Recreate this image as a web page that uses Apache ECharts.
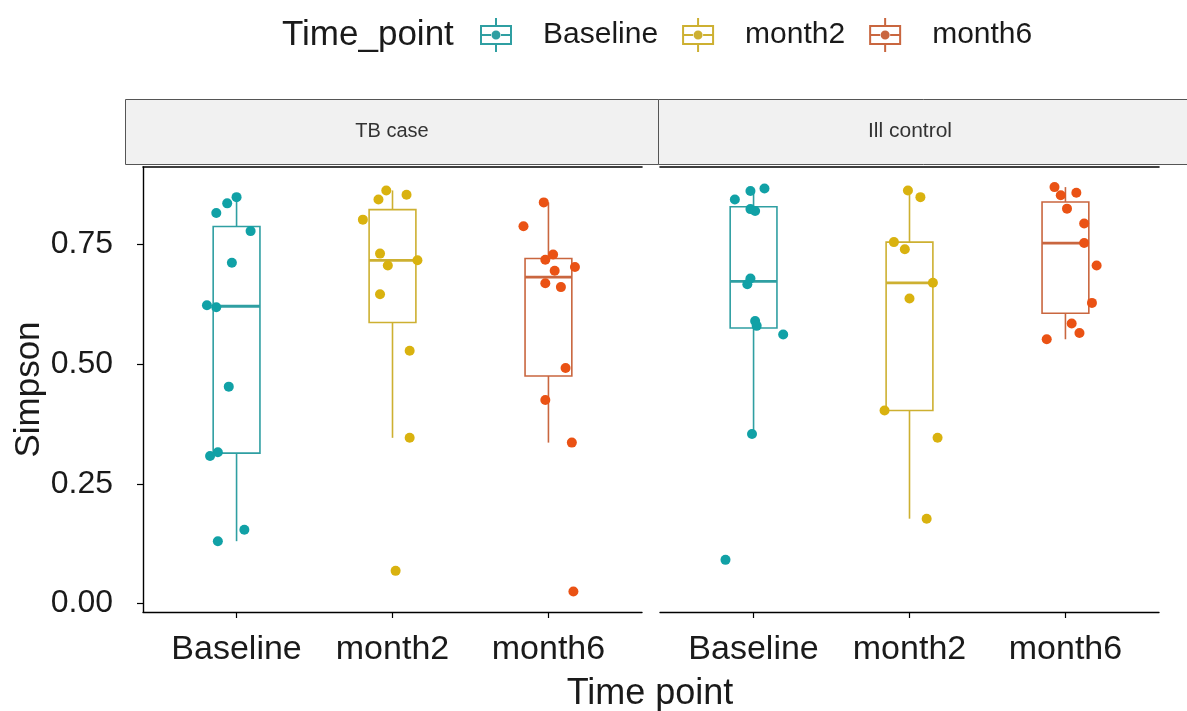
<!DOCTYPE html>
<html>
<head>
<meta charset="utf-8">
<script src="https://cdn.jsdelivr.net/npm/echarts@6/dist/echarts.min.js"></script>
<style>
  html, body { margin: 0; padding: 0; background: #ffffff; }
  #chart { width: 1187px; height: 711px; }
</style>
</head>
<body>
<div id="chart"></div>
<script>
// ---- data -------------------------------------------------------------
const timePoints = ['Baseline', 'month2', 'month6'];
const facets = ['TB case', 'Ill control'];
const yTickValues = [0, 0.25, 0.5, 0.75];

// Simpson diversity per sample, TB case
const tbBaseline = [0.849, 0.836, 0.816, 0.778, 0.712, 0.623, 0.619, 0.453, 0.316, 0.308, 0.154, 0.130];
const tbMonth2   = [0.863, 0.854, 0.844, 0.802, 0.731, 0.717, 0.706, 0.646, 0.528, 0.346, 0.068];
const tbMonth6   = [0.838, 0.788, 0.729, 0.718, 0.703, 0.695, 0.669, 0.661, 0.492, 0.425, 0.336, 0.025];

// Simpson diversity per sample, Ill control
const icBaseline = [0.867, 0.862, 0.844, 0.824, 0.820, 0.679, 0.667, 0.590, 0.580, 0.562, 0.354, 0.091];
const icMonth2   = [0.863, 0.849, 0.755, 0.740, 0.670, 0.637, 0.403, 0.346, 0.177];
const icMonth6   = [0.870, 0.858, 0.853, 0.825, 0.794, 0.753, 0.706, 0.628, 0.585, 0.565, 0.552];

// horizontal jitter of each point, in category units
const tbBaselineJitter = [0.00, -0.06, -0.13, 0.09, -0.03, -0.19, -0.13, -0.05, -0.12, -0.17, 0.05, -0.12];
const tbMonth2Jitter   = [-0.04, 0.09, -0.09, -0.19, -0.08, 0.16, -0.03, -0.08, 0.11, 0.11, 0.02];
const tbMonth6Jitter   = [-0.03, -0.16, 0.03, -0.02, 0.17, 0.04, -0.02, 0.08, 0.11, -0.02, 0.15, 0.16];
const icBaselineJitter = [0.07, -0.02, -0.12, -0.02, 0.01, -0.02, -0.04, 0.01, 0.02, 0.19, -0.01, -0.18];
const icMonth2Jitter   = [-0.01, 0.07, -0.10, -0.03, 0.15, 0.00, -0.16, 0.18, 0.11];
const icMonth6Jitter   = [-0.07, 0.07, -0.03, 0.01, 0.12, 0.12, 0.20, 0.17, 0.04, 0.09, -0.12];

// ---- styling ------------------------------------------------------------
const pointColors = ['#11a1a6', '#d9b20f', '#ea5214'];
const lineColors  = ['#2f9fa2', '#cdb031', '#c9663f'];
const FONT = 'Liberation Sans, Arial, sans-serif';
const BOX_WIDTH = 0.3;
const Y_MIN = -0.018, Y_MAX = 0.912;

const groupedValues = [[tbBaseline, tbMonth2, tbMonth6], [icBaseline, icMonth2, icMonth6]];
const groupedJitter = [[tbBaselineJitter, tbMonth2Jitter, tbMonth6Jitter],
                       [icBaselineJitter, icMonth2Jitter, icMonth6Jitter]];

// quantile as in R's default (type 7)
function quantile(sorted, p) {
  const h = (sorted.length - 1) * p;
  const lo = Math.floor(h), hi = Math.ceil(h);
  return sorted[lo] + (h - lo) * (sorted[hi] - sorted[lo]);
}
// [low whisker, Q1, median, Q3, high whisker] with 1.5 IQR whiskers
function boxStats(values) {
  const s = values.slice().sort((a, b) => a - b);
  const q1 = quantile(s, 0.25), med = quantile(s, 0.5), q3 = quantile(s, 0.75);
  const iqr = q3 - q1;
  const lo = Math.min(...s.filter(v => v >= q1 - 1.5 * iqr));
  const hi = Math.max(...s.filter(v => v <= q3 + 1.5 * iqr));
  return [lo, q1, med, q3, hi];
}

function renderBox(params, api) {
  const x = api.value(0);
  const lo = api.coord([x, api.value(1)]);
  const q1 = api.coord([x, api.value(2)]);
  const md = api.coord([x, api.value(3)]);
  const q3 = api.coord([x, api.value(4)]);
  const hi = api.coord([x, api.value(5)]);
  const half = api.size([BOX_WIDTH, 0])[0] / 2;
  const color = api.visual('color');
  const cx = q1[0];
  return {
    type: 'group',
    children: [
      { type: 'line', shape: { x1: cx, y1: lo[1], x2: cx, y2: q1[1] }, style: { stroke: color, lineWidth: 1.6 } },
      { type: 'line', shape: { x1: cx, y1: q3[1], x2: cx, y2: hi[1] }, style: { stroke: color, lineWidth: 1.6 } },
      { type: 'rect', shape: { x: cx - half, y: q3[1], width: 2 * half, height: q1[1] - q3[1] },
        style: { fill: '#ffffff', stroke: color, lineWidth: 1.6 } },
      { type: 'line', shape: { x1: cx - half, y1: md[1], x2: cx + half, y2: md[1] }, style: { stroke: color, lineWidth: 2.8 } }
    ]
  };
}

// legend key: box with whiskers, median and a point
const keyIcon = 'path://M15,0h2v7h-2zM15,27h2v7h-2zM0,7h32v20h-32zM2,9v16h28v-16zM2,16h9v2h-9zM21,16h9v2h-9zM11.5,17a4.5,4.5 0 1,0 9,0a4.5,4.5 0 1,0 -9,0z';

// ---- layout ---------------------------------------------------------------
const grids = [
  { left: 143, top: 167, width: 499, height: 445 },
  { left: 660, top: 167, width: 499, height: 445 }
];

const xAxes = [], yAxes = [], series = [];
facets.forEach((facet, g) => {
  xAxes.push({
    type: 'value', gridIndex: g, min: 0.4, max: 3.6, position: 'bottom',
    splitLine: { show: false },
    axisLine: { show: true, onZero: false, lineStyle: { color: '#000', width: 1.4 } },
    axisTick: { show: true, customValues: [1, 2, 3], length: 6, lineStyle: { color: '#000', width: 1.2 } },
    axisLabel: {
      customValues: [1, 2, 3], formatter: v => timePoints[Math.round(v) - 1],
      fontFamily: FONT, fontSize: 34, color: '#1a1a1a', margin: 21
    }
  });
  xAxes.push({
    type: 'value', gridIndex: g, min: 0.4, max: 3.6, position: 'top',
    splitLine: { show: false }, axisTick: { show: false }, axisLabel: { show: false },
    axisLine: { show: true, onZero: false, lineStyle: { color: '#000', width: 1.6 } }
  });
  yAxes.push({
    type: 'value', gridIndex: g, min: Y_MIN, max: Y_MAX,
    splitLine: { show: false },
    axisLine: { show: g === 0, onZero: false, lineStyle: { color: '#000', width: 1.4 } },
    axisTick: { show: g === 0, customValues: yTickValues, length: 6, lineStyle: { color: '#000', width: 1.2 } },
    axisLabel: {
      show: g === 0, customValues: yTickValues, formatter: v => v.toFixed(2),
      fontFamily: FONT, fontSize: 32, color: '#1a1a1a', margin: 30
    },
    name: g === 0 ? 'Simpson' : '', nameLocation: 'middle', nameRotate: 90, nameGap: 93,
    nameTextStyle: { fontFamily: FONT, fontSize: 35, color: '#1a1a1a' }
  });

  timePoints.forEach((tp, t) => {
    const values = groupedValues[g][t];
    const jitter = groupedJitter[g][t];
    series.push({
      name: tp, type: 'custom', xAxisIndex: 2 * g, yAxisIndex: g,
      renderItem: renderBox, itemStyle: { color: lineColors[t] }, z: 2,
      encode: { x: 0, y: [1, 2, 3, 4, 5] },
      data: [[t + 1].concat(boxStats(values))],
      silent: true
    });
    series.push({
      name: tp, type: 'scatter', xAxisIndex: 2 * g, yAxisIndex: g,
      symbolSize: 10, z: 3,
      itemStyle: { color: pointColors[t], opacity: 1 },
      data: values.map((v, i) => [t + 1 + jitter[i], v])
    });
  });
});

const chart = echarts.init(document.getElementById('chart'), null, { renderer: 'canvas' });
chart.setOption({
  animation: false,
  backgroundColor: '#ffffff',
  color: pointColors,
  title: [
    { text: 'Time_point', left: 277, top: 13, textStyle: { fontFamily: FONT, fontSize: 35, fontWeight: 'normal', color: '#1a1a1a' } },
    { text: 'Time point', left: 645, top: 671, textAlign: 'center', textStyle: { fontFamily: FONT, fontSize: 36, fontWeight: 'normal', color: '#1a1a1a' } }
  ],
  legend: {
    left: 480, top: 18, padding: 0, itemWidth: 32, itemHeight: 34, itemGap: 24,
    data: timePoints.map((tp, t) => ({ name: tp, icon: keyIcon, itemStyle: { color: lineColors[t] } })),
    textStyle: { fontFamily: FONT, fontSize: 30, color: '#1a1a1a', padding: [0, 0, 0, 26] },
    selectedMode: false
  },
  grid: grids,
  xAxis: xAxes,
  yAxis: yAxes,
  series: series,
  graphic: [
    { type: 'rect', shape: { x: 125.5, y: 99.5, width: 533, height: 65 }, style: { fill: '#f1f1f1', stroke: '#555', lineWidth: 1 }, z: 0 },
    { type: 'rect', shape: { x: 658.5, y: 99.5, width: 540, height: 65 }, style: { fill: '#f1f1f1', stroke: '#555', lineWidth: 1 }, z: 0 },
    { type: 'text', x: 392, y: 131, style: { text: facets[0], fontFamily: FONT, fontSize: 20, fill: '#333', align: 'center', verticalAlign: 'middle' } },
    { type: 'text', x: 910, y: 131, style: { text: facets[1], fontFamily: FONT, fontSize: 21, fill: '#333', align: 'center', verticalAlign: 'middle' } }
  ]
});
</script>
</body>
</html>
